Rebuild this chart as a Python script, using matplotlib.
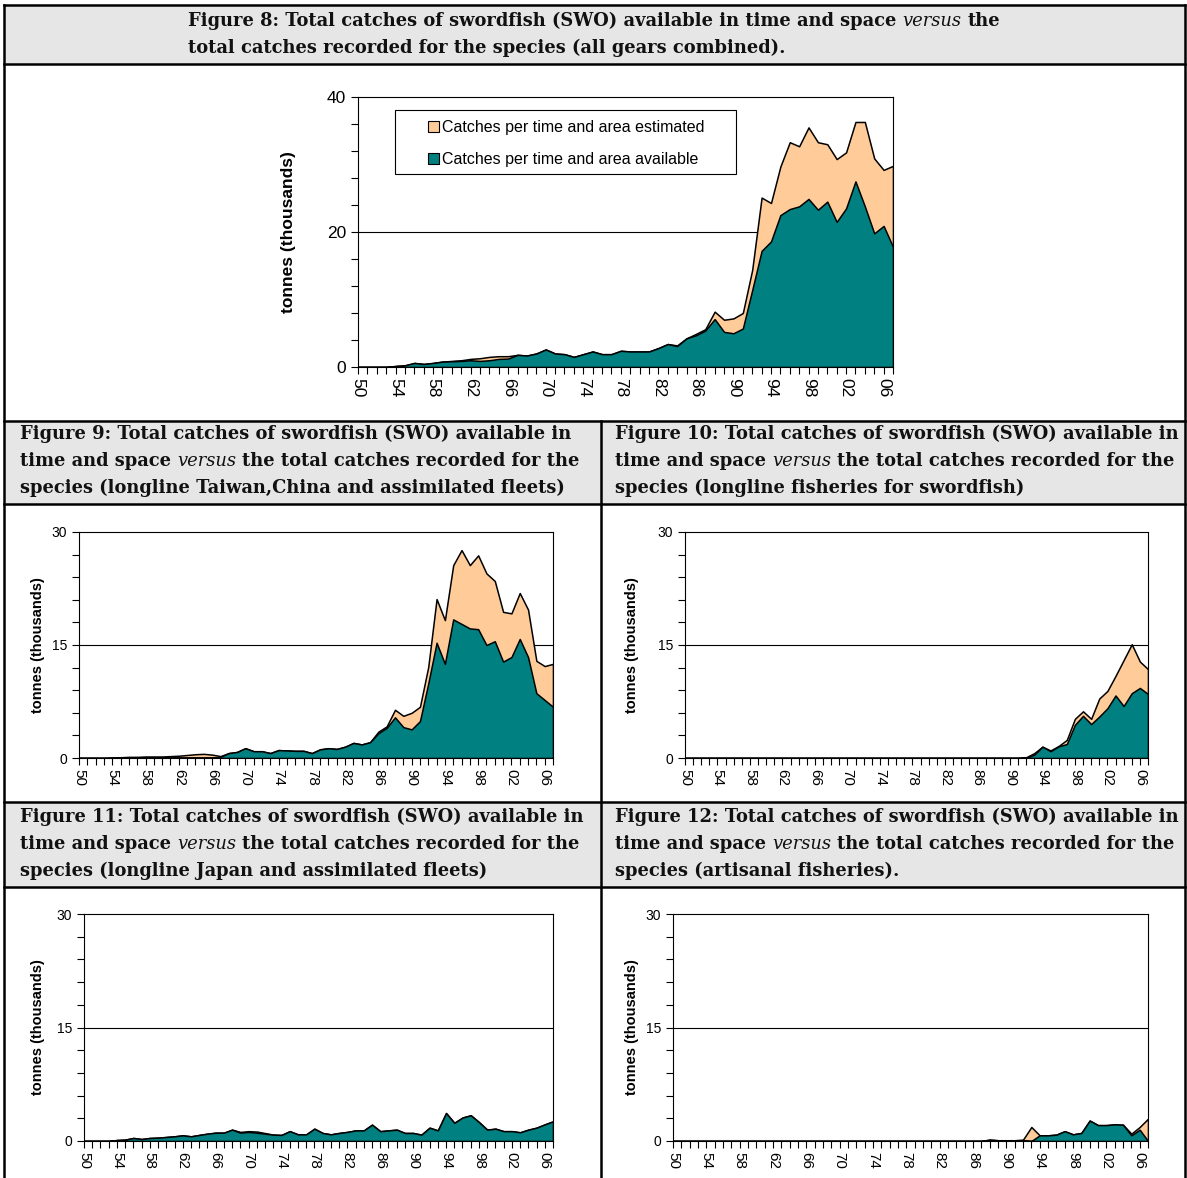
import matplotlib
matplotlib.use("Agg")
import matplotlib.pyplot as plt
from matplotlib.patches import Rectangle, Patch
from matplotlib.lines import Line2D
import numpy as np

plt.rcParams['font.family'] = ['Liberation Sans', 'DejaVu Sans']

# Years 1950 - 2007
years = list(range(1950, 2008))

# Figure 8: all gears combined (thousand tonnes)
avail8 = [0, 0, 0, 0, 0.15, 0.25, 0.6, 0.45, 0.6, 0.8,
          0.85, 0.9, 1.0, 0.9, 1.0, 1.2, 1.25, 1.8, 1.7, 2.0,
          2.6, 2.0, 1.9, 1.5, 1.9, 2.3, 1.9, 1.9, 2.4, 2.3,
          2.3, 2.3, 2.8, 3.4, 3.1, 4.25, 4.7, 5.4, 7.1, 5.2,
          5.0, 5.7, 11.4, 17.2, 18.6, 22.5, 23.4, 23.8, 24.9, 23.3,
          24.5, 21.5, 23.5, 27.5, 23.8, 19.8, 20.9, 17.8]
total8 = [0, 0, 0, 0, 0.15, 0.25, 0.6, 0.45, 0.6, 0.8,
          0.9, 1.0, 1.2, 1.3, 1.5, 1.6, 1.6, 1.8, 1.7, 2.0,
          2.6, 2.0, 1.9, 1.5, 1.9, 2.3, 1.9, 1.9, 2.4, 2.3,
          2.3, 2.3, 2.8, 3.4, 3.2, 4.25, 4.9, 5.6, 8.2, 7.0,
          7.2, 8.0, 14.4, 25.1, 24.3, 29.7, 33.3, 32.7, 35.5, 33.3,
          33.0, 30.8, 31.8, 36.3, 36.3, 30.9, 29.2, 29.8]

# Figure 9: longline Taiwan,China and assimilated fleets
avail9 = [0, 0, 0, 0, 0, 0, 0.02, 0.02, 0.05, 0.05,
          0.05, 0.05, 0.05, 0.05, 0.05, 0.05, 0.05, 0.15, 0.65, 0.8,
          1.3, 0.9, 0.9, 0.65, 1.05, 1.0, 0.95, 0.95, 0.65, 1.15,
          1.3, 1.2, 1.5, 2.0, 1.8, 2.1, 3.3, 4.0, 5.4, 4.1,
          3.8, 4.9, 9.9, 15.3, 12.5, 18.4, 17.8, 17.2, 17.1, 15.0,
          15.5, 12.8, 13.4, 15.8, 13.4, 8.6, 7.7, 6.8]
total9 = [0, 0, 0, 0, 0.05, 0.1, 0.15, 0.15, 0.2, 0.2,
          0.2, 0.25, 0.3, 0.4, 0.5, 0.55, 0.45, 0.25, 0.65, 0.8,
          1.3, 0.9, 0.9, 0.65, 1.05, 1.0, 0.95, 0.95, 0.65, 1.15,
          1.3, 1.2, 1.5, 2.0, 1.8, 2.1, 3.5, 4.2, 6.4, 5.6,
          6.0, 6.8, 12.1, 21.1, 18.3, 25.6, 27.6, 25.6, 26.9, 24.5,
          23.5, 19.4, 19.2, 21.9, 19.7, 12.9, 12.2, 12.5]

# Figure 10: longline fisheries for swordfish
avail10 = [0, 0, 0, 0, 0, 0, 0, 0, 0, 0,
           0, 0, 0, 0, 0, 0, 0, 0, 0, 0,
           0, 0, 0, 0, 0, 0, 0, 0, 0, 0,
           0, 0, 0, 0, 0, 0, 0, 0, 0, 0,
           0, 0, 0.05, 0.45, 1.5, 0.9, 1.55, 1.85, 4.4, 5.6,
           4.5, 5.5, 6.6, 8.3, 6.9, 8.6, 9.3, 8.5]
total10 = [0, 0, 0, 0, 0, 0, 0, 0, 0, 0,
           0, 0, 0, 0, 0, 0, 0, 0, 0, 0,
           0, 0, 0, 0, 0, 0, 0, 0, 0, 0,
           0, 0, 0, 0, 0, 0, 0, 0, 0, 0,
           0, 0, 0.1, 0.65, 1.5, 1.0, 1.6, 2.4, 5.2, 6.2,
           5.2, 7.9, 8.9, 10.9, 13.0, 15.1, 12.8, 11.8]

# Figure 11: longline Japan and assimilated fleets
avail11 = [0, 0, 0, 0, 0.13, 0.18, 0.4, 0.26, 0.4, 0.44,
           0.53, 0.62, 0.75, 0.62, 0.8, 0.97, 1.1, 1.1, 1.5, 1.1,
           1.2, 1.1, 0.97, 0.84, 0.8, 1.3, 0.88, 0.88, 1.63, 1.06,
           0.88, 1.06, 1.2, 1.4, 1.4, 2.16, 1.3, 1.4, 1.5, 1.06,
           1.06, 0.84, 1.76, 1.4, 3.7, 2.4, 3.1, 3.4, 2.5, 1.5,
           1.63, 1.3, 1.3, 1.15, 1.5, 1.76, 2.2, 2.6]
total11 = [0, 0, 0, 0, 0.13, 0.18, 0.4, 0.26, 0.4, 0.44,
           0.53, 0.62, 0.75, 0.62, 0.8, 0.97, 1.1, 1.1, 1.5, 1.2,
           1.3, 1.25, 1.05, 0.84, 0.8, 1.3, 0.88, 0.88, 1.63, 1.06,
           0.88, 1.06, 1.2, 1.4, 1.4, 2.16, 1.3, 1.4, 1.5, 1.06,
           1.06, 0.84, 1.76, 1.4, 3.7, 2.4, 3.1, 3.4, 2.5, 1.5,
           1.63, 1.3, 1.3, 1.15, 1.5, 1.76, 2.2, 2.6]

# Figure 12: artisanal fisheries
avail12 = [0, 0, 0, 0, 0, 0, 0, 0, 0, 0,
           0, 0, 0, 0, 0, 0, 0, 0, 0, 0,
           0, 0, 0, 0, 0, 0, 0, 0, 0, 0,
           0, 0, 0, 0, 0, 0, 0, 0, 0.18, 0.1,
           0.1, 0.1, 0.1, 0, 0.75, 0.75, 0.84, 1.3, 0.88, 1.06,
           2.7, 2.1, 2.1, 2.2, 2.15, 0.75, 1.5, 0]
total12 = [0, 0, 0, 0, 0, 0, 0, 0, 0, 0,
           0, 0, 0, 0, 0, 0, 0, 0, 0, 0,
           0, 0, 0, 0, 0, 0, 0, 0, 0, 0,
           0, 0, 0, 0, 0, 0, 0, 0, 0.18, 0.1,
           0.1, 0.1, 0.18, 1.85, 0.75, 0.75, 0.84, 1.3, 0.88, 1.06,
           2.7, 2.1, 2.1, 2.2, 2.15, 0.97, 1.85, 2.95]

legendLabels = ["Catches per time and area estimated",
                "Catches per time and area available"]

TEAL = "#008080"
ORANGE = "#FFCC99"
HEADER_BG = "#e6e6e6"
SERIF = "DejaVu Serif"
HEAD_SIZE = 12.9

W, H = 1187, 1178
fig = plt.figure(figsize=(W / 100., H / 100.), dpi=100)
fig.patch.set_facecolor("white")


def fx(px):
    return px / float(W)


def fy(py):
    return 1. - py / float(H)


def add_axes_px(x0, y0, x1, y1):
    return fig.add_axes([fx(x0), fy(y1), (x1 - x0) / float(W), (y1 - y0) / float(H)])


def draw_panel(ax, avail, total, ymax, yminor, ytickSize, xtickSize, labelSize, labelDist):
    """
    Draws one Excel-like stacked area panel (total behind, available in front)
    """
    x = np.arange(len(years))
    ax.fill_between(x, 0, total, facecolor=ORANGE, edgecolor="black", linewidth=1.1, zorder=2)
    ax.fill_between(x, 0, avail, facecolor=TEAL, edgecolor="black", linewidth=1.1, zorder=3)
    ax.axhline(ymax / 2., color="black", linewidth=0.8, zorder=1)

    ax.set_xlim(0, len(years) - 1)
    ax.set_ylim(0, ymax)
    ax.set_xticks(x[::4])
    ax.set_xticklabels(["%02d" % (y % 100) for y in years[::4]], rotation=270,
                       fontsize=xtickSize)
    ax.set_xticks(x, minor=True)
    ax.set_yticks([0, ymax / 2, ymax])
    ax.set_yticklabels(["%d" % v for v in [0, ymax / 2, ymax]], fontsize=ytickSize)
    ax.set_yticks(np.arange(0, ymax + 0.01, yminor), minor=True)
    ax.tick_params(which="both", direction="out", length=5, width=0.8, colors="black")
    ax.tick_params(axis="x", which="major", pad=3)
    for s in ax.spines.values():
        s.set_linewidth(0.8)
        s.set_zorder(4)
    ax.set_ylabel("tonnes (thousands)", fontsize=labelSize, fontweight="bold")
    widthPx = ax.get_position().width * W
    ax.yaxis.set_label_coords(-labelDist / widthPx, 0.5)
#### End of function draw_panel


renderer = fig.canvas.get_renderer()


def text_width(txt, **kw):
    t = fig.text(0, 0, txt, **kw)
    w = t.get_window_extent(renderer).width
    t.remove()
    return w


def rich_line(xPx, yPx, parts, size=HEAD_SIZE):
    """
    Writes a header line made of bold / italic pieces one after another
    """
    x = xPx
    for txt, style in parts:
        kw = dict(fontsize=size, family=SERIF,
                  fontweight="bold" if style == "b" else "normal",
                  fontstyle="italic" if style == "i" else "normal")
        space = text_width("a a", **kw) - text_width("aa", **kw)
        t = fig.text(fx(x), fy(yPx), txt, va="center", ha="left", color="#111111", **kw)
        x += t.get_window_extent(renderer).width + space
#### End of function rich_line


# ---- table background and rules
for (y0, y1) in [(5, 64), (421, 504), (802, 887)]:
    fig.add_artist(Rectangle((fx(4), fy(y1)), fx(1185) - fx(4), fy(y0) - fy(y1),
                             transform=fig.transFigure, facecolor=HEADER_BG,
                             edgecolor="none", zorder=0))
ruleKw = dict(color="black", linewidth=1.8, transform=fig.transFigure, zorder=1)
for yy in [5, 64, 421, 504, 802, 887]:
    fig.add_artist(Line2D([fx(4), fx(1185)], [fy(yy), fy(yy)], **ruleKw))
fig.add_artist(Line2D([fx(4), fx(4)], [fy(5), fy(1178)], **ruleKw))
fig.add_artist(Line2D([fx(1185), fx(1185)], [fy(5), fy(1178)], **ruleKw))
fig.add_artist(Line2D([fx(601), fx(601)], [fy(421), fy(1178)], **ruleKw))

# ---- headers
rich_line(188, 21, [("Figure 8: Total catches of swordfish (SWO) available in time and space", "b"),
                    ("versus", "i"), ("the", "b")])
rich_line(188, 48, [("total catches recorded for the species (all gears combined).", "b")])

subTitles = [(20, 434, "Figure 9:", "species (longline Taiwan,China and assimilated fleets)"),
             (615, 434, "Figure 10:", "species (longline fisheries for swordfish)"),
             (20, 817, "Figure 11:", "species (longline Japan and assimilated fleets)"),
             (615, 817, "Figure 12:", "species (artisanal fisheries).")]
for (xh, yh, figName, lastLine) in subTitles:
    rich_line(xh, yh, [(figName + " Total catches of swordfish (SWO) available in", "b")])
    rich_line(xh, yh + 27, [("time and space", "b"), ("versus", "i"),
                            ("the total catches recorded for the", "b")])
    rich_line(xh, yh + 54, [(lastLine, "b")])

# ---- charts
ax8 = add_axes_px(358, 97, 893, 367)
draw_panel(ax8, avail8, total8, 40, 4, 12.5, 12.5, 12.5, 62)
ax8.add_patch(Rectangle((0.0692, 0.7148), 0.6374, 0.237, transform=ax8.transAxes,
                        facecolor="white", edgecolor="black", linewidth=0.8, zorder=5))
handles = [Patch(facecolor=ORANGE, edgecolor="black", linewidth=0.8),
           Patch(facecolor=TEAL, edgecolor="black", linewidth=0.8)]
leg = ax8.legend(handles, legendLabels, loc="upper left", bbox_to_anchor=(0.1308, 0.913),
                 frameon=False, fontsize=11.5, handlelength=0.7, handleheight=0.7,
                 handletextpad=0.2, labelspacing=1.05, borderpad=0, borderaxespad=0)
leg.set_zorder(6)

ax9 = add_axes_px(79, 532, 553, 758)
draw_panel(ax9, avail9, total9, 30, 3, 10, 11, 10.5, 34)

ax10 = add_axes_px(685, 532, 1148, 758)
draw_panel(ax10, avail10, total10, 30, 3, 10, 11, 10.5, 46)

ax11 = add_axes_px(84, 914, 553, 1141)
draw_panel(ax11, avail11, total11, 30, 3, 10, 11, 10.5, 39)

ax12 = add_axes_px(673, 914, 1148, 1141)
draw_panel(ax12, avail12, total12, 30, 3, 10, 11, 10.5, 34)

fig.savefig("out.png", dpi=100)
